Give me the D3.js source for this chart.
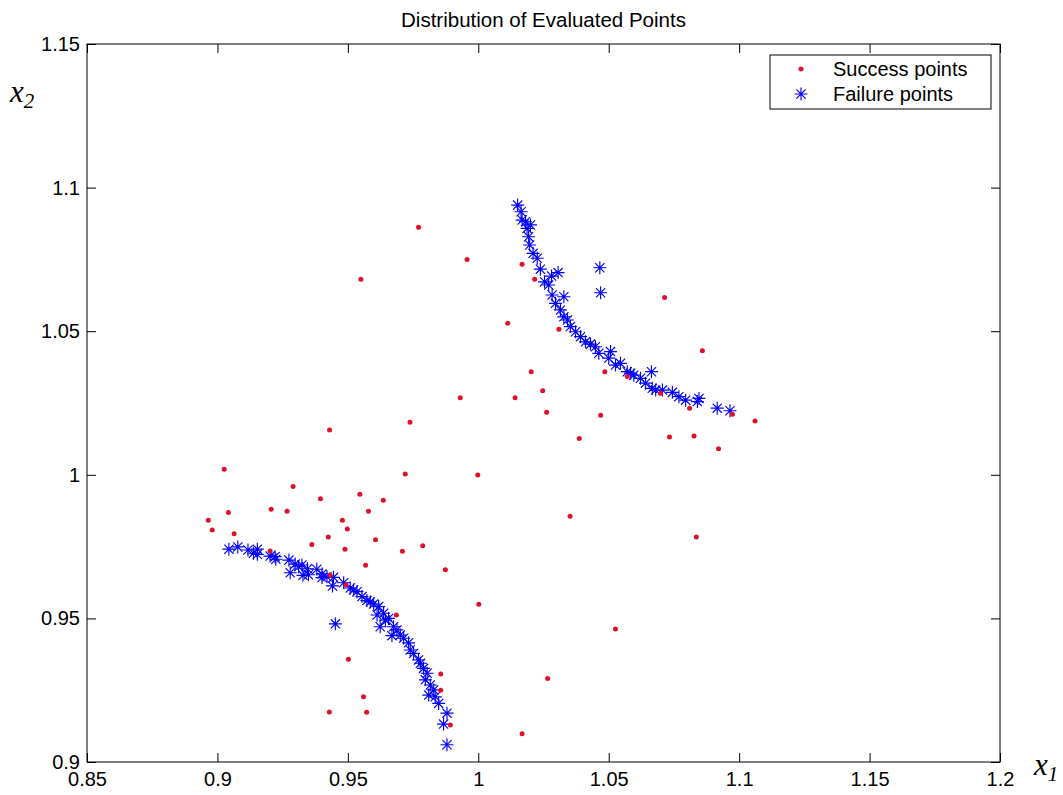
<!DOCTYPE html>
<html>
<head>
<meta charset="utf-8">
<script src="https://cdn.jsdelivr.net/npm/d3@7"></script>
<style>
  body { margin: 0; background: #fff; }
  text { font-family: "Liberation Sans", Arial, sans-serif; }
</style>
</head>
<body>
<div id="chart"></div>
<script>
// tick values / labels
const xTicks = [0.85, 0.9, 0.95, 1, 1.05, 1.1, 1.15, 1.2];
const xTickLabels = ["0.85", "0.9", "0.95", "1", "1.05", "1.1", "1.15", "1.2"];
const yTicks = [0.9, 0.95, 1, 1.05, 1.1, 1.15];
const yTickLabels = ["0.9", "0.95", "1", "1.05", "1.1", "1.15"];

const seriesNames = ["Success points", "Failure points"];

// success points (red dots), [x1, x2]
const successPoints = [
  [0.9026, 1.0019], [0.9720, 1.0003], [0.9998, 0.9999], [0.9290, 0.9959],
  [0.9546, 0.9932], [0.9395, 0.9917], [0.9636, 0.9911], [0.9042, 0.9869],
  [0.9206, 0.9880], [0.9267, 0.9873], [0.9579, 0.9873], [0.8965, 0.9842],
  [0.9479, 0.9842], [0.8980, 0.9808], [0.9498, 0.9811], [0.9064, 0.9795],
  [0.9425, 0.9783], [0.9606, 0.9774], [0.9362, 0.9757], [0.9787, 0.9753],
  [0.9489, 0.9741], [0.9709, 0.9734], [0.9202, 0.9735], [0.9568, 0.9685],
  [0.9874, 0.9669], [0.9432, 0.9650], [0.9493, 0.9617], [1.0002, 0.9549],
  [0.9686, 0.9512], [0.9502, 0.9358], [0.9856, 0.9306], [0.9856, 0.9250],
  [0.9560, 0.9227], [0.9429, 0.9174], [0.9572, 0.9173], [0.9893, 0.9129],
  [0.9771, 1.0862], [0.9957, 1.0750], [0.9550, 1.0681], [0.9931, 1.0268],
  [0.9738, 1.0183], [0.9430, 1.0156], [1.0352, 0.9856], [1.0836, 0.9783],
  [1.0526, 0.9463], [1.0266, 0.9291], [1.0168, 0.9098], [1.0168, 1.0733],
  [1.0216, 1.0681], [1.0714, 1.0617], [1.0113, 1.0528], [1.0309, 1.0507],
  [1.0859, 1.0432], [1.0203, 1.0359], [1.0485, 1.0359], [1.0247, 1.0293],
  [1.0141, 1.0268], [1.0699, 1.0284], [1.0810, 1.0232], [1.0974, 1.0211],
  [1.1061, 1.0187], [1.0262, 1.0218], [1.0469, 1.0207], [1.0387, 1.0126],
  [1.0733, 1.0132], [1.0827, 1.0135], [1.0921, 1.0091], [1.0571, 1.0342]
];

// failure points (blue asterisks), [x1, x2]
const failurePoints = [
  // lower branch
  [0.9044, 0.9741], [0.9078, 0.9749], [0.9117, 0.9738], [0.9153, 0.9741],
  [0.9153, 0.9723], [0.9202, 0.9717], [0.9221, 0.9715], [0.9224, 0.9706],
  [0.9274, 0.9703], [0.9298, 0.9689], [0.9324, 0.9686], [0.9345, 0.9673],
  [0.9279, 0.9659], [0.9328, 0.9650], [0.9349, 0.9652], [0.9381, 0.9671],
  [0.9401, 0.9655], [0.9401, 0.9642], [0.9445, 0.9643], [0.9441, 0.9613],
  [0.9484, 0.9624], [0.9509, 0.9606], [0.9535, 0.9593], [0.9554, 0.9576],
  [0.9573, 0.9562], [0.9599, 0.9550], [0.9618, 0.9541], [0.9612, 0.9512],
  [0.9637, 0.9518], [0.9656, 0.9500], [0.9624, 0.9471], [0.9675, 0.9471],
  [0.9688, 0.9460], [0.9669, 0.9440], [0.9714, 0.9431], [0.9733, 0.9415],
  [0.9739, 0.9390], [0.9752, 0.9378], [0.9778, 0.9344], [0.9790, 0.9326],
  [0.9804, 0.9309], [0.9797, 0.9286], [0.9816, 0.9268], [0.9810, 0.9233],
  [0.9835, 0.9227], [0.9848, 0.9204], [0.9880, 0.9170], [0.9867, 0.9132],
  [0.9880, 0.9060], [0.9452, 0.9481], [0.9138, 0.9727], [0.9311, 0.9680],
  [0.9420, 0.9645], [0.9522, 0.9599], [0.9586, 0.9558], [0.9644, 0.9494],
  [0.9701, 0.9442], [0.9771, 0.9355], [0.9829, 0.9251],
  // upper branch
  [1.0151, 1.0939], [1.0164, 1.0916], [1.0168, 1.0887], [1.0181, 1.0881],
  [1.0200, 1.0870], [1.0187, 1.0858], [1.0193, 1.0829], [1.0197, 1.0800],
  [1.0210, 1.0771], [1.0226, 1.0754], [1.0238, 1.0716], [1.0281, 1.0692],
  [1.0306, 1.0704], [1.0254, 1.0672], [1.0270, 1.0661], [1.0283, 1.0626],
  [1.0328, 1.0620], [1.0296, 1.0597], [1.0315, 1.0574], [1.0328, 1.0550],
  [1.0353, 1.0516], [1.0373, 1.0498], [1.0392, 1.0481], [1.0411, 1.0463],
  [1.0449, 1.0446], [1.0462, 1.0423], [1.0507, 1.0429], [1.0500, 1.0406],
  [1.0526, 1.0382], [1.0545, 1.0388], [1.0571, 1.0359], [1.0596, 1.0347],
  [1.0622, 1.0336], [1.0641, 1.0319], [1.0664, 1.0359], [1.0667, 1.0301],
  [1.0680, 1.0295], [1.0744, 1.0287], [1.0769, 1.0272], [1.0795, 1.0260],
  [1.0840, 1.0255], [1.0846, 1.0266], [1.0916, 1.0232], [1.0965, 1.0223],
  [1.0466, 1.0721], [1.0469, 1.0634], [1.0342, 1.0539], [1.0430, 1.0455],
  [1.0584, 1.0354], [1.0706, 1.0295]
];

const W = 1063, H = 795;
const margin = { top: 44, right: 63, bottom: 33, left: 87 };
const innerW = W - margin.left - margin.right;
const innerH = H - margin.top - margin.bottom;
const tickLen = 9;

const red = "#e0102a";
const blue = "#0000ff";

const svg = d3.select("#chart")
  .append("svg")
  .attr("width", W)
  .attr("height", H);

const g = svg.append("g")
  .attr("transform", `translate(${margin.left},${margin.top})`);

const x = d3.scaleLinear().domain([0.85, 1.2]).range([0, innerW]);
const y = d3.scaleLinear().domain([0.9, 1.15]).range([innerH, 0]);

// axes, ticks pointing inward (matlab style box)
const fmtX = (d, i) => xTickLabels[i];
const fmtY = (d, i) => yTickLabels[i];

const xAxis = g.append("g")
  .attr("transform", `translate(0,${innerH})`)
  .call(d3.axisBottom(x).tickValues(xTicks).tickFormat(fmtX)
    .tickSizeInner(-tickLen).tickSizeOuter(0).tickPadding(10));
const xTop = g.append("g")
  .call(d3.axisTop(x).tickValues(xTicks).tickFormat("")
    .tickSizeInner(-tickLen).tickSizeOuter(0));
const yAxis = g.append("g")
  .call(d3.axisLeft(y).tickValues(yTicks).tickFormat(fmtY)
    .tickSizeInner(-tickLen).tickSizeOuter(0).tickPadding(7));
const yRight = g.append("g")
  .attr("transform", `translate(${innerW},0)`)
  .call(d3.axisRight(y).tickValues(yTicks).tickFormat("")
    .tickSizeInner(-tickLen).tickSizeOuter(0));

[xAxis, xTop, yAxis, yRight].forEach((a) => {
  a.select(".domain").remove();
  a.selectAll(".tick line").attr("stroke", "#000");
  a.selectAll(".tick text")
    .attr("fill", "#000")
    .style("font-size", "20px")
    .style("font-family", '"Liberation Sans", Arial, sans-serif');
});

// frame
g.append("rect")
  .attr("width", innerW)
  .attr("height", innerH)
  .attr("fill", "none")
  .attr("stroke", "#000")
  .attr("stroke-width", 1);

// asterisk marker
const ar = 6.5, ad = ar * 0.7071;
const starPath = `M${-ar},0H${ar}M0,${-ar}V${ar}` +
  `M${-ad},${-ad}L${ad},${ad}M${-ad},${ad}L${ad},${-ad}`;

g.append("g")
  .selectAll("path")
  .data(failurePoints)
  .enter()
  .append("path")
  .attr("d", starPath)
  .attr("transform", (d) => `translate(${x(d[0])},${y(d[1])})`)
  .attr("fill", "none")
  .attr("stroke", blue)
  .attr("stroke-width", 1.15);

g.append("g")
  .selectAll("circle")
  .data(successPoints)
  .enter()
  .append("circle")
  .attr("cx", (d) => x(d[0]))
  .attr("cy", (d) => y(d[1]))
  .attr("r", 2.5)
  .attr("fill", red);

// title
svg.append("text")
  .attr("x", margin.left + innerW / 2)
  .attr("y", 27)
  .attr("text-anchor", "middle")
  .style("font-size", "20.5px")
  .text("Distribution of Evaluated Points");

// axis labels x1, x2
const axLabel = (px, py, sub) => {
  const t = svg.append("text")
    .attr("x", px)
    .attr("y", py)
    .style("font-family", '"Liberation Serif", "Times New Roman", serif')
    .style("font-style", "italic")
    .style("font-size", "31px");
  t.append("tspan").text("x");
  t.append("tspan").attr("dy", 6).style("font-size", "21px").text(sub);
};
axLabel(1034, 775, "1");
axLabel(10, 102, "2");

// legend
const leg = g.append("g")
  .attr("transform", `translate(${770 - margin.left},${55 - margin.top})`);
leg.append("rect")
  .attr("width", 221)
  .attr("height", 54)
  .attr("fill", "#fff")
  .attr("stroke", "#000");
seriesNames.forEach((name, i) => {
  const cy = 14 + i * 25;
  if (i === 0) {
    leg.append("circle").attr("cx", 31).attr("cy", cy).attr("r", 2.5).attr("fill", red);
  } else {
    leg.append("path").attr("d", starPath)
      .attr("transform", `translate(31,${cy})`)
      .attr("fill", "none").attr("stroke", blue).attr("stroke-width", 1.15);
  }
  leg.append("text")
    .attr("x", 63)
    .attr("y", cy + 7)
    .style("font-size", "20px")
    .text(name);
});
</script>
</body>
</html>
